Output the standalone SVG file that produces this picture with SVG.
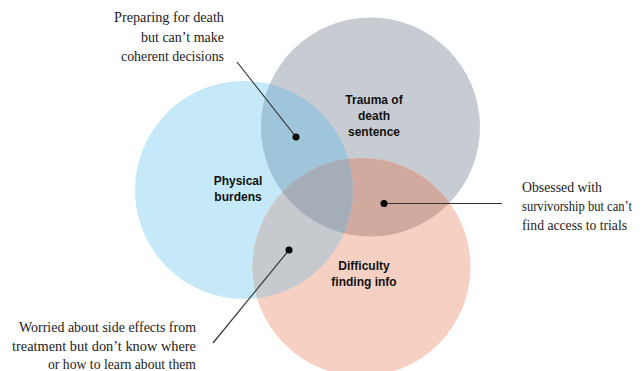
<svg xmlns="http://www.w3.org/2000/svg" width="643" height="371" viewBox="0 0 643 371">
  <style>
    .lbl { font-family: "Liberation Sans", Arial, sans-serif; font-weight: bold; font-size: 12px; fill: #111; text-anchor: middle; }
    .note { font-family: "Liberation Serif", "Times New Roman", serif; font-size: 14.3px; fill: #222; }
    .note-r { font-size: 13.6px; }
    .lead { stroke: #333; stroke-width: 1.2; fill: none; }
    .dot { fill: #000; }
  </style>
  <defs>
    <circle id="cBlue" cx="244" cy="190" r="109"/>
    <circle id="cGray" cx="370.5" cy="127" r="109.5"/>
    <circle id="cOrange" cx="361.5" cy="267" r="109"/>
    <clipPath id="clipBlue"><use href="#cBlue"/></clipPath>
    <clipPath id="clipGray"><use href="#cGray"/></clipPath>
  </defs>
  <rect width="643" height="371" fill="#fff"/>
  <g id="physical-burdens">
    <use href="#cBlue" fill="#c6e9f9"/>
  </g>
  <g id="trauma-of-death-sentence">
    <use href="#cGray" fill="#c7ccd3"/>
  </g>
  <g id="difficulty-finding-info">
    <use href="#cOrange" fill="#f6d1c3"/>
  </g>
  <g id="overlaps">
    <use href="#cGray" fill="#9ec5d9" clip-path="url(#clipBlue)"/>
    <use href="#cOrange" fill="#d2a99e" clip-path="url(#clipGray)"/>
    <use href="#cOrange" fill="#c6cacf" clip-path="url(#clipBlue)"/>
    <g clip-path="url(#clipBlue)">
      <use href="#cOrange" fill="#a5aeb8" clip-path="url(#clipGray)"/>
    </g>
  </g>
  <g id="labels">
    <text class="lbl" x="238" y="185">Physical</text>
    <text class="lbl" x="238" y="201">burdens</text>
    <text class="lbl" x="374" y="104">Trauma of</text>
    <text class="lbl" x="374" y="120">death</text>
    <text class="lbl" x="374" y="136">sentence</text>
    <text class="lbl" x="364" y="270">Difficulty</text>
    <text class="lbl" x="364" y="286">finding info</text>
  </g>
  <g id="connectors">
    <line class="lead" x1="237" y1="62" x2="296" y2="137"/>
    <line class="lead" x1="384" y1="203.5" x2="502" y2="203.5"/>
    <line class="lead" x1="289" y1="250" x2="213" y2="343"/>
    <circle class="dot" cx="296" cy="137" r="3.5"/>
    <circle class="dot" cx="384" cy="203.5" r="3.5"/>
    <circle class="dot" cx="289" cy="250" r="3.5"/>
  </g>
  <g id="note-preparing">
    <text class="note" text-anchor="end" x="224" y="22" textLength="110" lengthAdjust="spacingAndGlyphs">Preparing for death</text>
    <text class="note" text-anchor="end" x="224" y="42" textLength="83" lengthAdjust="spacingAndGlyphs">but can’t make</text>
    <text class="note" text-anchor="end" x="224" y="61" textLength="103" lengthAdjust="spacingAndGlyphs">coherent decisions</text>
  </g>
  <g id="note-obsessed">
    <text class="note note-r" x="522" y="192" textLength="80" lengthAdjust="spacingAndGlyphs">Obsessed with</text>
    <text class="note note-r" x="522" y="211" textLength="110" lengthAdjust="spacingAndGlyphs">survivorship but can’t</text>
    <text class="note note-r" x="522" y="230" textLength="105" lengthAdjust="spacingAndGlyphs">find access to trials</text>
  </g>
  <g id="note-worried">
    <text class="note" text-anchor="end" x="196" y="332" textLength="177" lengthAdjust="spacingAndGlyphs">Worried about side effects from</text>
    <text class="note" text-anchor="end" x="196" y="351" textLength="184" lengthAdjust="spacingAndGlyphs">treatment but don’t know where</text>
    <text class="note" text-anchor="end" x="196" y="369" textLength="148" lengthAdjust="spacingAndGlyphs">or how to learn about them</text>
  </g>
</svg>
